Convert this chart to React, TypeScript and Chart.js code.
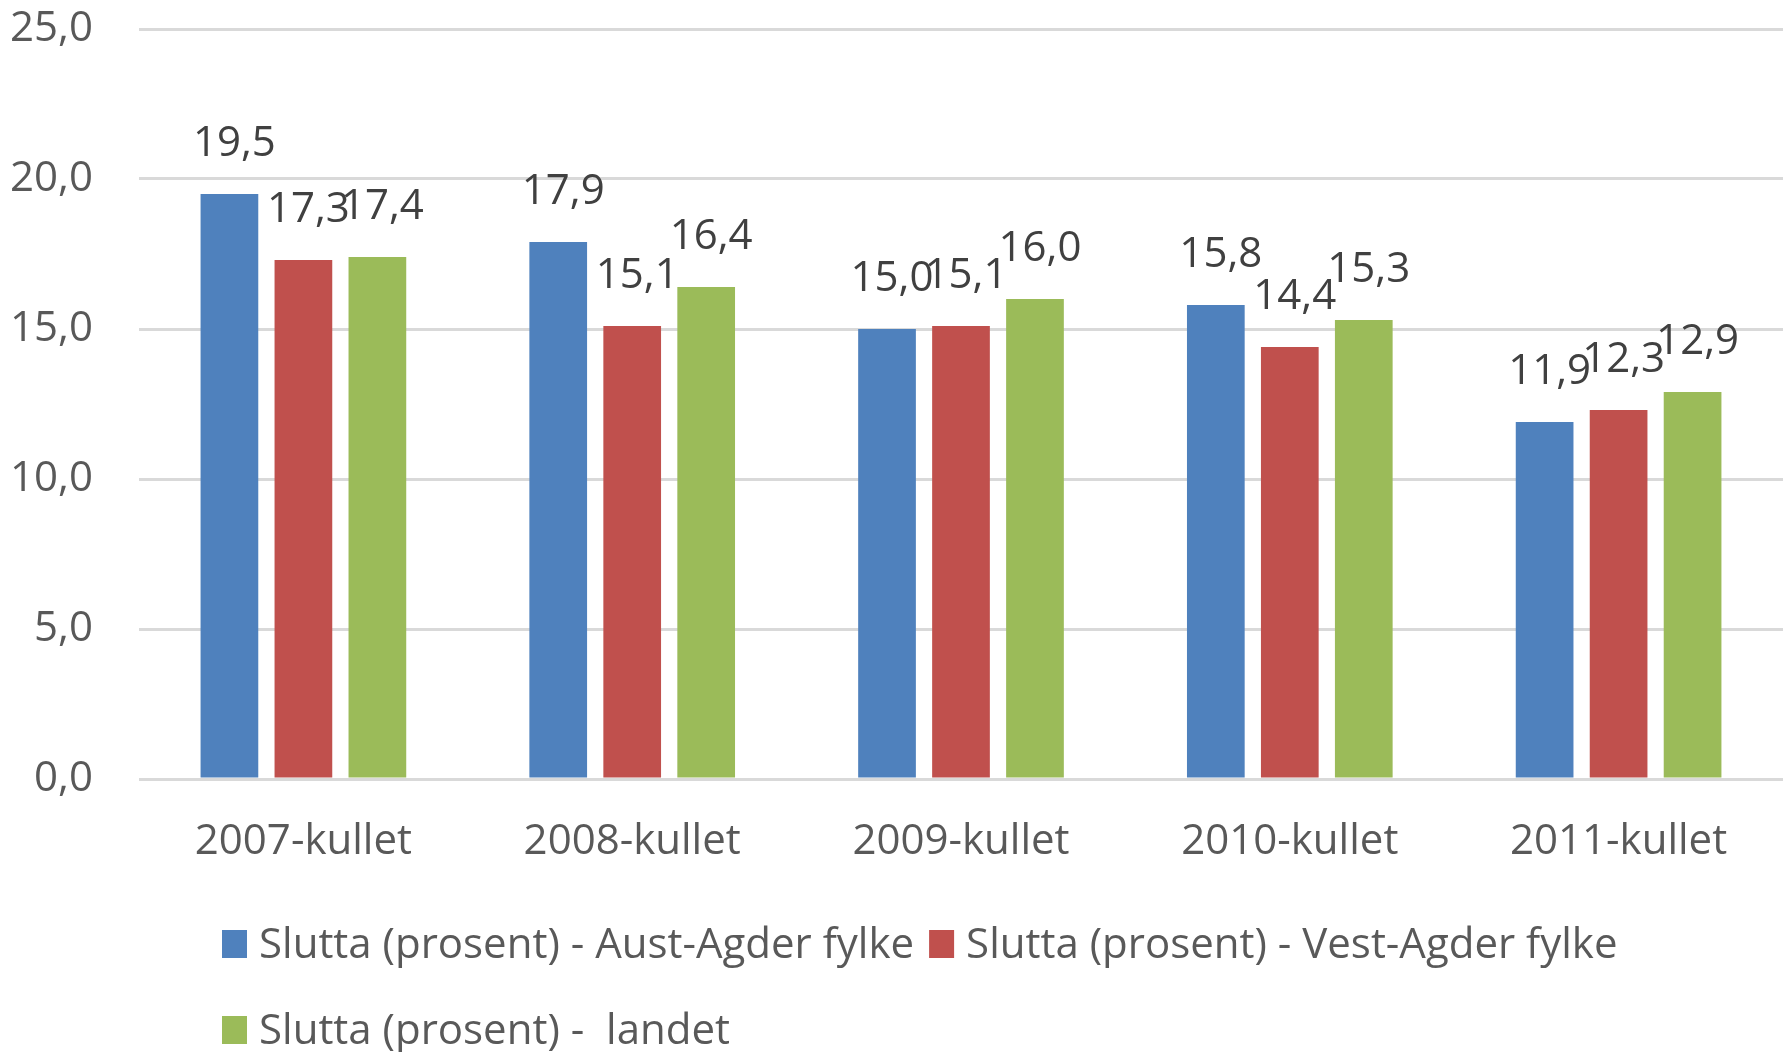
import React, { useEffect, useRef } from "react";
import { Chart, registerables } from "chart.js";

Chart.register(...registerables);

const categories = ["2007-kullet", "2008-kullet", "2009-kullet", "2010-kullet", "2011-kullet"];
const austAgder = [19.5, 17.9, 15.0, 15.8, 11.9];
const vestAgder = [17.3, 15.1, 15.1, 14.4, 12.3];
const landet = [17.4, 16.4, 16.0, 15.3, 12.9];
const seriesNames = [
  "Slutta (prosent) - Aust-Agder fylke",
  "Slutta (prosent) - Vest-Agder fylke",
  "Slutta (prosent) -  landet",
];
const seriesColors = ["#4F81BD", "#C0504D", "#9BBB59"];
const yMin = 0;
const yMax = 25;
const yStep = 5;

const FONT = "'Open Sans', sans-serif";
const FONT_SIZE = 42;
const fmt = (v: number) => v.toFixed(1).replace(".", ",");

const dataLabelPlugin = {
  id: "dataLabels",
  afterDatasetsDraw(chart: any) {
    const ctx = chart.ctx;
    ctx.save();
    ctx.font = `${FONT_SIZE}px ${FONT}`;
    ctx.fillStyle = "#404040";
    ctx.textAlign = "center";
    ctx.textBaseline = "alphabetic";
    chart.data.datasets.forEach((ds: any, i: number) => {
      const meta = chart.getDatasetMeta(i);
      meta.data.forEach((bar: any, j: number) => {
        ctx.fillText(fmt(ds.data[j]), bar.x + 5, bar.y - 38);
      });
    });
    ctx.restore();
  },
};

const legendPlugin = {
  id: "customLegend",
  afterDraw(chart: any) {
    const ctx = chart.ctx;
    ctx.save();
    ctx.font = `${FONT_SIZE}px ${FONT}`;
    ctx.textAlign = "left";
    ctx.textBaseline = "alphabetic";
    const rows = [[0, 1], [2]];
    const baselines = [958, 1044];
    rows.forEach((row, r) => {
      let x = 222;
      row.forEach((i) => {
        const ds = chart.data.datasets[i];
        ctx.fillStyle = ds.backgroundColor;
        ctx.fillRect(x, baselines[r] - 28, 25, 28);
        ctx.fillStyle = "#595959";
        ctx.fillText(ds.label, x + 37, baselines[r]);
        x += 37 + ctx.measureText(ds.label).width + 15;
      });
    });
    ctx.restore();
  },
};

export default function App() {
  const ref = useRef<HTMLCanvasElement | null>(null);

  useEffect(() => {
    document.body.style.margin = "0";
    document.body.style.overflow = "hidden";
    const canvas = ref.current;
    if (!canvas) return;
    const values = [austAgder, vestAgder, landet];
    const chart = new Chart(canvas, {
      type: "bar",
      data: {
        labels: categories,
        datasets: values.map((d, i) => ({
          label: seriesNames[i],
          data: d,
          backgroundColor: seriesColors[i],
          borderWidth: 0,
          categoryPercentage: 0.675,
          barPercentage: 0.78,
        })),
      },
      options: {
        responsive: false,
        animation: false,
        devicePixelRatio: 1,
        layout: { padding: { top: 29, right: 6, left: 0, bottom: 0 } },
        plugins: {
          legend: { display: false },
          tooltip: { enabled: false },
        },
        scales: {
          x: {
            grid: { display: false },
            border: { display: false },
            ticks: {
              color: "#595959",
              font: { family: FONT, size: FONT_SIZE },
              padding: 30,
              maxRotation: 0,
            },
            afterFit(scale: any) {
              scale.height = 273;
              scale.paddingLeft = 0;
              scale.paddingRight = 0;
            },
          },
          y: {
            min: yMin,
            max: yMax,
            ticks: {
              stepSize: yStep,
              color: "#595959",
              font: { family: FONT, size: FONT_SIZE },
              padding: 46,
              callback: (v: any) => fmt(Number(v)),
            },
            grid: { color: "#d9d9d9", lineWidth: 3, drawTicks: false },
            border: { display: false },
            afterFit(scale: any) {
              scale.width = 139;
              scale.paddingTop = 0;
              scale.paddingBottom = 0;
            },
          },
        },
      },
      plugins: [dataLabelPlugin, legendPlugin],
    });
    return () => chart.destroy();
  }, []);

  return (
    <div style={{ width: 1789, height: 1052, background: "#fff" }}>
      <canvas ref={ref} width={1789} height={1052} style={{ display: "block" }} />
    </div>
  );
}
